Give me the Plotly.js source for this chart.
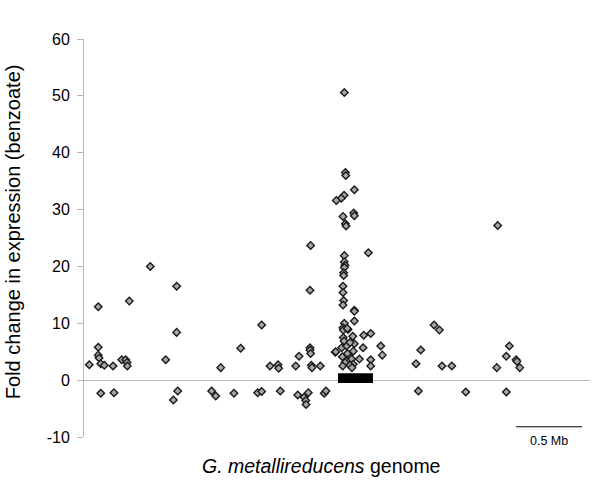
<!DOCTYPE html>
<html>
<head>
<meta charset="utf-8">
<script src="https://cdn.plot.ly/plotly-3.0.1.min.js"></script>
<style>html,body{margin:0;padding:0;background:#fff;}#chart{width:600px;height:480px;}</style>
</head>
<body>
<div id="chart"></div>
<script>
// Genome position (Mb) of each gene and its fold change in expression (benzoate)
const genomePositionMb = [
  0.040, 0.108, 0.108, 0.108, 0.114, 0.127, 0.154, 0.220, 0.286, 0.316, 0.326, 0.328,
  0.343, 0.502, 0.619, 0.702, 0.702, 1.036, 0.127, 0.227, 0.710, 0.677, 0.967, 0.998,
  1.136, 1.187, 1.316, 1.346, 1.346, 1.409, 1.470, 1.475, 1.487, 1.604, 1.619, 1.629,
  1.667, 1.680, 1.682, 1.699, 1.712, 1.717, 1.712, 1.712, 1.717, 1.722, 1.727, 1.790,
  1.820, 1.833, 1.904,
  1.972, 1.980, 1.983, 2.048, 1.970, 1.949, 1.911, 1.962, 2.043, 2.048, 1.980, 1.985,
  1.972, 2.154, 1.972, 1.977, 1.972, 1.967, 1.967, 1.962, 1.962, 1.967, 1.962, 2.048,
  2.048, 2.048, 1.972, 1.962, 1.964, 2.000, 1.995, 2.119, 2.172, 1.964, 2.036, 2.248,
  2.260, 1.907, 1.952, 1.990, 2.048, 2.114, 1.970, 2.040, 2.002, 1.957, 2.028, 2.086,
  2.172, 2.172, 1.977, 2.040, 1.960, 2.015, 2.030, 1.995, 2.015,
  2.515, 2.551, 2.652, 2.692, 2.712, 2.786, 3.134, 3.127, 3.222, 3.199, 3.273, 3.280,
  3.301, 2.533, 2.892, 3.199
];
const foldChange = [
  2.7, 12.9, 5.8, 4.4, 3.9, 2.9, 2.6, 2.5, 3.6, 3.6, 3.1, 2.5,
  13.9, 20.0, 3.6, 16.5, 8.4, 2.2, -2.3, -2.2, -1.9, -3.5, -1.9, -2.8,
  -2.3, 5.6, -2.2, -2.0, 9.7, 2.5, 2.7, 2.1, -1.9, 2.5, -2.6, 4.2,
  -3.0, -3.6, -4.3, -2.2, 15.8, 23.7, 5.7, 5.3, 4.7, 2.6, 2.2, 2.5,
  -2.3, -1.9, 4.9,
  50.6, 36.5, 36.0, 33.5, 32.5, 32.0, 31.6, 28.8, 29.4, 28.9, 27.5, 27.1,
  21.9, 22.4, 20.8, 20.2, 19.8, 18.9, 18.4, 16.5, 15.4, 14.0, 13.2, 12.3,
  12.1, 10.4, 10.0, 9.2, 8.8, 8.9, 9.1, 7.9, 8.2, 7.5, 7.7, 6.0,
  4.4, 5.0, 5.7, 6.0, 6.4, 5.7, 6.9, 5.1, 4.3, 4.1, 3.7, 3.7,
  3.6, 2.5, 3.1, 2.8, 2.5, 2.6, 2.2, 4.7, 6.6,
  2.9, 5.3, 9.7, 8.8, 2.5, 2.5, 27.2, 2.2, 6.0, 4.2, 3.6, 3.3,
  2.2, -1.9, -2.1, -2.1
];
// Benzoate gene cluster region (Mb) and its marker band (fold change units)
const clusterRegionMb = [1.924, 2.189];
const clusterBand = [-0.5, 1.2];
// Scale bar (Mb) and its label
const scaleBarMb = [3.273, 3.773];
const scaleBarLevel = -8.2;
const scaleBarLabel = '0.5 Mb';
const yTickValues = [-10, 0, 10, 20, 30, 40, 50, 60];

const font = 'Liberation Sans, Arial, sans-serif';

const trace = {
  type: 'scatter',
  mode: 'markers',
  x: genomePositionMb,
  y: foldChange,
  marker: {symbol: 'diamond', size: 5.8, color: '#a6a6a6', line: {color: '#1a1a1a', width: 1.4}},
  hoverinfo: 'x+y',
  cliponaxis: false
};

const layout = {
  width: 600, height: 480,
  margin: {l: 84, r: 10, t: 39, b: 43},
  paper_bgcolor: '#fff', plot_bgcolor: '#fff',
  showlegend: false,
  font: {family: font, color: '#000'},
  xaxis: {
    range: [0, 3.833], showgrid: false, zeroline: false, showline: false,
    showticklabels: false, ticks: '', fixedrange: true
  },
  yaxis: {
    range: [-10, 60], tickvals: yTickValues, ticktext: yTickValues.map(String),
    showgrid: false, zeroline: true, zerolinecolor: '#b8b8b8', zerolinewidth: 1,
    showline: true, linecolor: '#b8b8b8', linewidth: 1,
    ticks: 'outside', ticklen: 6, tickcolor: '#b8b8b8', tickwidth: 1,
    tickfont: {family: font, size: 16, color: '#000'}, ticklabelstandoff: 4
  },
  shapes: [
    {type: 'rect', xref: 'x', yref: 'y', x0: clusterRegionMb[0], x1: clusterRegionMb[1],
     y0: clusterBand[0], y1: clusterBand[1], fillcolor: '#000', line: {width: 0}, layer: 'above'},
    {type: 'line', xref: 'x', yref: 'y', x0: scaleBarMb[0], x1: scaleBarMb[1],
     y0: scaleBarLevel, y1: scaleBarLevel, line: {color: '#000', width: 1}}
  ],
  annotations: [
    {xref: 'x', yref: 'paper', x: (scaleBarMb[0] + scaleBarMb[1]) / 2, y: -0.01,
     text: scaleBarLabel, showarrow: false, xanchor: 'center', yanchor: 'middle',
     font: {family: font, size: 12.5, color: '#000'}},
    {xref: 'paper', yref: 'paper', x: 0.468, y: -0.073, xanchor: 'center', yanchor: 'middle',
     text: '<i>G. metallireducens</i> genome', showarrow: false,
     font: {family: font, size: 19.5, color: '#000'}},
    {xref: 'paper', yref: 'paper', x: -0.14, y: 0.515, xanchor: 'center', yanchor: 'middle',
     textangle: -90, text: 'Fold change in expression (benzoate)', showarrow: false,
     font: {family: font, size: 20, color: '#000'}}
  ]
};

Plotly.newPlot('chart', [trace], layout, {displayModeBar: false, staticPlot: true});
</script>
</body>
</html>
